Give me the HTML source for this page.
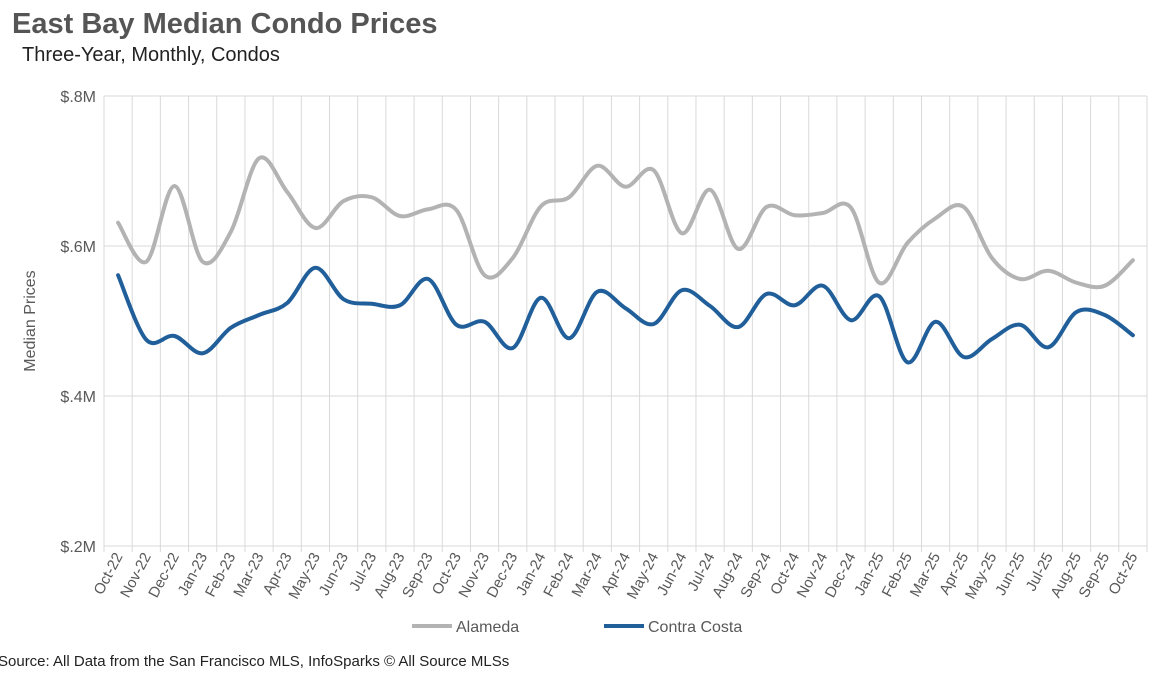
<!DOCTYPE html>
<html><head><meta charset="utf-8"><style>
body{margin:0;background:#fff;font-family:"Liberation Sans",sans-serif;}
svg text{font-family:"Liberation Sans",sans-serif;}
</style></head><body>
<svg width="1166" height="674">
<text x="12" y="33" font-size="29" font-weight="bold" fill="#555">East Bay Median Condo Prices</text>
<text x="22" y="61" font-size="20" fill="#222">Three-Year, Monthly, Condos</text>
<text transform="translate(35,321) rotate(-90)" text-anchor="middle" font-size="16" fill="#595959">Median Prices</text>
<g id="grid"></g><g id="ylab"></g><g id="xlab"></g><g id="lines"></g>
<line x1="412" y1="626" x2="452" y2="626" stroke="#b3b3b3" stroke-width="4"/>
<text x="456" y="632" font-size="16" fill="#595959">Alameda</text>
<line x1="604" y1="626" x2="644" y2="626" stroke="#215f9a" stroke-width="4"/>
<text x="648" y="632" font-size="16" fill="#595959">Contra Costa</text>
<text x="-2" y="666" font-size="15" fill="#222">Source: All Data from the San Francisco MLS, InfoSparks © All Source MLSs</text>
</svg>
<script>
const categories=["Oct-22","Nov-22","Dec-22","Jan-23","Feb-23","Mar-23","Apr-23","May-23","Jun-23","Jul-23","Aug-23","Sep-23","Oct-23","Nov-23","Dec-23","Jan-24","Feb-24","Mar-24","Apr-24","May-24","Jun-24","Jul-24","Aug-24","Sep-24","Oct-24","Nov-24","Dec-24","Jan-25","Feb-25","Mar-25","Apr-25","May-25","Jun-25","Jul-25","Aug-25","Sep-25","Oct-25"];
const alameda=[0.631,0.579,0.68,0.579,0.619,0.717,0.672,0.624,0.66,0.665,0.64,0.649,0.648,0.561,0.584,0.653,0.665,0.707,0.679,0.701,0.617,0.675,0.596,0.652,0.641,0.644,0.651,0.551,0.604,0.637,0.652,0.584,0.556,0.567,0.551,0.547,0.581];
const contraCosta=[0.561,0.475,0.48,0.457,0.491,0.508,0.524,0.571,0.529,0.523,0.521,0.556,0.495,0.499,0.464,0.531,0.477,0.539,0.517,0.496,0.541,0.52,0.492,0.536,0.521,0.547,0.501,0.533,0.445,0.499,0.452,0.476,0.495,0.465,0.512,0.508,0.481];
const yTicks=[0.2,0.4,0.6,0.8];
const yTickLabels=["$.2M","$.4M","$.6M","$.8M"];
const NS="http://www.w3.org/2000/svg";
const L=104,R=1147,T=96,B=546,yMin=0.2,yMax=0.8;
const step=(R-L)/categories.length;
const x=i=>L+step*(i+0.5);
const y=v=>B-(v-yMin)/(yMax-yMin)*(B-T);
function mk(tag,attrs,parent){const e=document.createElementNS(NS,tag);for(const k in attrs)e.setAttribute(k,attrs[k]);document.getElementById(parent).appendChild(e);return e;}
yTicks.forEach((t,i)=>{
 const g=mk("line",{x1:L,x2:R,y1:y(t),y2:y(t),stroke:"#d9d9d9","stroke-width":1},"grid");
 
 
 const tx=mk("text",{x:L-8,y:y(t)+6,"text-anchor":"end","font-size":16,fill:"#595959"},"ylab");
 tx.textContent=yTickLabels[i];
 
 
});
for(let i=0;i<=categories.length;i++){
 const g=mk("line",{x1:L+step*i,x2:L+step*i,y1:T,y2:B+6,stroke:"#d9d9d9","stroke-width":1},"grid");
 
 
}
categories.forEach((c,i)=>{
 const tx=mk("text",{transform:`translate(${x(i)+5},${B+10}) rotate(-62)`,"text-anchor":"end","font-size":15,fill:"#595959"},"xlab");
 tx.textContent=c;
 
 
});
function path(vals){
 const p=vals.map((v,i)=>[x(i),y(v)]);
 let d=`M${p[0][0]},${p[0][1]}`;
 for(let i=0;i<p.length-1;i++){
  const p0=p[Math.max(0,i-1)],p1=p[i],p2=p[i+1],p3=p[Math.min(p.length-1,i+2)];
  const t=1/6;
  d+=` C${p1[0]+(p2[0]-p0[0])*t},${p1[1]+(p2[1]-p0[1])*t} ${p2[0]-(p3[0]-p1[0])*t},${p2[1]-(p3[1]-p1[1])*t} ${p2[0]},${p2[1]}`;
 }
 return d;
}
const a=mk("path",{d:path(alameda),fill:"none",stroke:"#b3b3b3","stroke-width":4,"stroke-linecap":"round"},"lines");


const cc=mk("path",{d:path(contraCosta),fill:"none",stroke:"#215f9a","stroke-width":4,"stroke-linecap":"round"},"lines");


</script>
</body></html>
